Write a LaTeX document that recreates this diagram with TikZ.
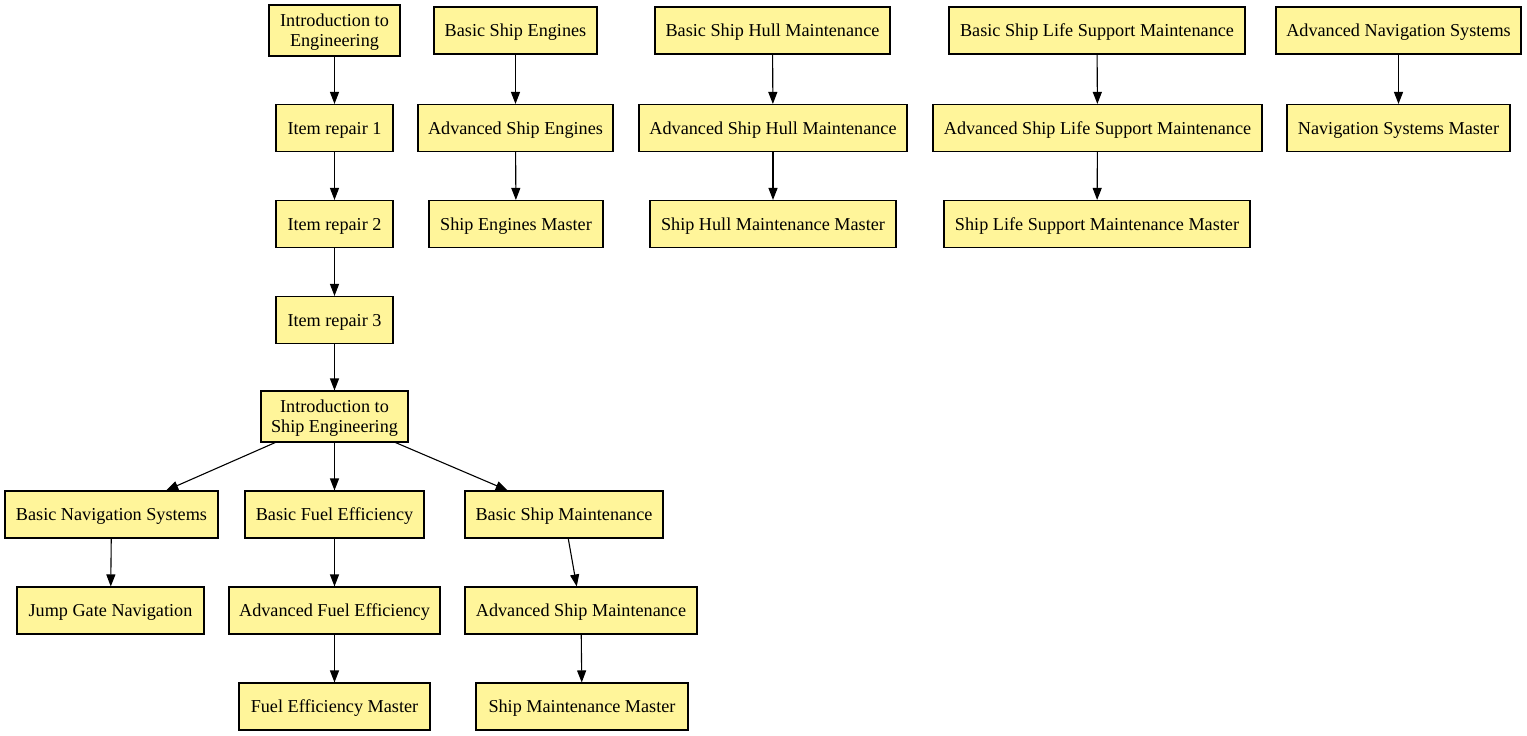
\documentclass[tikz,border=0pt]{standalone}
\usepackage{fontspec}
\setmainfont{Liberation Serif}
\usetikzlibrary{arrows.meta}
\definecolor{boxfill}{HTML}{FFF59A}
\tikzset{
  box/.style={draw=black, fill=boxfill, line width=1.1pt, rectangle, inner sep=0pt,
    minimum height=47pt, align=center, text depth=0pt, font=\fontsize{18.2pt}{20pt}\selectfont},
  tall/.style={minimum height=51pt},
  edge/.style={draw=black, line width=1.1pt, -{Triangle[length=12pt,width=9pt]}}
}
\begin{document}
\begin{tikzpicture}[x=1pt,y=-1pt]
\useasboundingbox (0,0) rectangle (1527,736);
% left column
\node[box,tall,minimum width=131pt] (ie) at (334.5,30.5) {Introduction to\\Engineering};
\node[box,minimum width=117pt] (ir1) at (334.5,128) {Item repair 1};
\node[box,minimum width=117pt] (ir2) at (334.5,224) {Item repair 2};
\node[box,minimum width=117pt] (ir3) at (334.5,320) {Item repair 3};
\node[box,tall,minimum width=147pt] (ise) at (334.5,416.5) {Introduction to\\Ship Engineering};
\node[box,minimum width=213pt] (bns) at (111.5,514.5) {Basic Navigation Systems};
\node[box,minimum width=179pt] (bfe) at (334.5,514.5) {Basic Fuel Efficiency};
\node[box,minimum width=198pt] (bsm) at (564,514.5) {Basic Ship Maintenance};
\node[box,minimum width=187pt] (jgn) at (110.5,610.5) {Jump Gate Navigation};
\node[box,minimum width=211pt] (afe) at (334.5,610.5) {Advanced Fuel Efficiency};
\node[box,minimum width=232pt] (asm) at (581,610.5) {Advanced Ship Maintenance};
\node[box,minimum width=191pt] (fem) at (334.5,706.5) {Fuel Efficiency Master};
\node[box,minimum width=212pt] (smm) at (582,706.5) {Ship Maintenance Master};
% engines
\node[box,minimum width=163pt] (bse) at (515.5,30.5) {Basic Ship Engines};
\node[box,minimum width=195pt] (ase) at (515.5,128) {Advanced Ship Engines};
\node[box,minimum width=174pt] (sem) at (516,224) {Ship Engines Master};
% hull
\node[box,minimum width=235pt] (bshm) at (772.5,30.5) {Basic Ship Hull Maintenance};
\node[box,minimum width=268pt] (ashm) at (773,128) {Advanced Ship Hull Maintenance};
\node[box,minimum width=246pt] (shmm) at (773,224) {Ship Hull Maintenance Master};
% life support
\node[box,minimum width=296pt] (bsls) at (1097,30.5) {Basic Ship Life Support Maintenance};
\node[box,minimum width=329pt] (asls) at (1097.5,128) {Advanced Ship Life Support Maintenance};
\node[box,minimum width=306pt] (slsm) at (1097,224) {Ship Life Support Maintenance Master};
% navigation
\node[box,minimum width=245pt] (ans) at (1398.5,30.5) {Advanced Navigation Systems};
\node[box,minimum width=223pt] (nsm) at (1398.5,128) {Navigation Systems Master};
% edges
\draw[edge] (ie) -- (ir1);
\draw[edge] (ir1) -- (ir2);
\draw[edge] (ir2) -- (ir3);
\draw[edge] (ir3) -- (ise);
\draw[edge] (ise) -- (bns);
\draw[edge] (ise) -- (bfe);
\draw[edge] (ise) -- (bsm);
\draw[edge] (bns) -- (jgn);
\draw[edge] (bfe) -- (afe);
\draw[edge] (afe) -- (fem);
\draw[edge] (bsm) -- (asm);
\draw[edge] (asm) -- (smm);
\draw[edge] (bse) -- (ase);
\draw[edge] (ase) -- (sem);
\draw[edge] (bshm) -- (ashm);
\draw[edge] (ashm) -- (shmm);
\draw[edge] (bsls) -- (asls);
\draw[edge] (asls) -- (slsm);
\draw[edge] (ans) -- (nsm);
\end{tikzpicture}
\end{document}
